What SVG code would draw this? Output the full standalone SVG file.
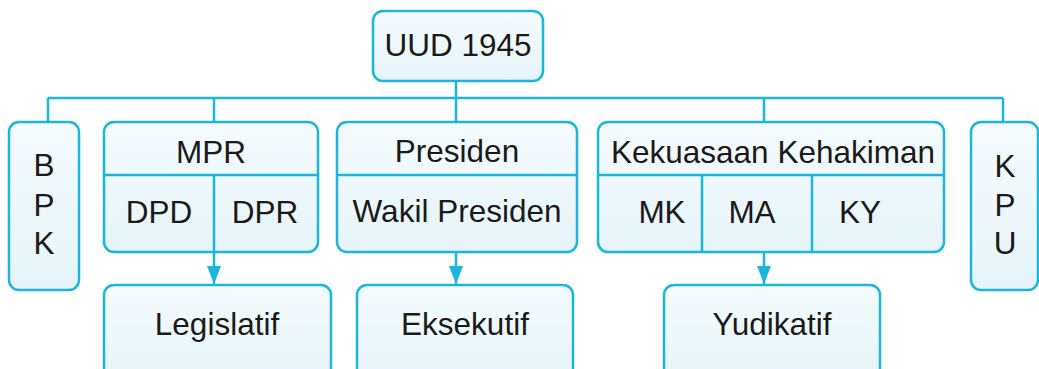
<svg xmlns="http://www.w3.org/2000/svg" width="1039" height="369" viewBox="0 0 1039 369">
<defs>
<linearGradient id="fillg" x1="0" y1="0" x2="0" y2="1">
<stop offset="0" stop-color="#f5fbfd"/>
<stop offset="1" stop-color="#e6f4f9"/>
</linearGradient>
<marker id="arr" viewBox="0 0 18 14" refX="18" refY="7" markerWidth="18" markerHeight="14" markerUnits="userSpaceOnUse" orient="auto">
<path d="M0,0 L18,7 L0,14 Z" fill="#1cb6da"/>
</marker>
<style>
.box{fill:url(#fillg);stroke:#1cb6da;stroke-width:2.5}
.ln{fill:none;stroke:#1cb6da;stroke-width:2.5}
text{font-family:"Liberation Sans",Arial,sans-serif;font-size:31.5px;fill:#1a1a1a;text-anchor:middle}
</style>
</defs>
<rect width="1039" height="369" fill="#ffffff"/>
<g id="connectors">
<path class="ln" d="M456,81 V122"/>
<path class="ln" d="M48,98 H1003"/>
<path class="ln" d="M48,98 V122"/>
<path class="ln" d="M214,98 V122"/>
<path class="ln" d="M764,98 V122"/>
<path class="ln" d="M1003,98 V122"/>
<path class="ln" d="M214,252 V284" marker-end="url(#arr)"/>
<path class="ln" d="M456,252 V284" marker-end="url(#arr)"/>
<path class="ln" d="M764,252 V284" marker-end="url(#arr)"/>
</g>
<g id="uud">
<rect class="box" x="373" y="11" width="170" height="70" rx="10"/>
<text x="458" y="56">UUD 1945</text>
</g>
<g id="bpk">
<rect class="box" x="9" y="122" width="70" height="168" rx="10"/>
<text x="44" y="176">B</text>
<text x="44" y="216">P</text>
<text x="44" y="254">K</text>
</g>
<g id="mpr">
<rect class="box" x="104" y="122" width="214" height="130" rx="10"/>
<path class="ln" d="M104,175 H318 M214,175 V252"/>
<text x="211" y="163">MPR</text>
<text x="159" y="223">DPD</text>
<text x="265" y="223">DPR</text>
</g>
<g id="presiden">
<rect class="box" x="337" y="122" width="240" height="130" rx="10"/>
<path class="ln" d="M337,175 H577"/>
<text x="457" y="162">Presiden</text>
<text x="457" y="222">Wakil Presiden</text>
</g>
<g id="kehakiman">
<rect class="box" x="598" y="122" width="346" height="130" rx="10"/>
<path class="ln" d="M598,175 H944 M702,175 V252 M812,175 V252"/>
<text x="773" y="163">Kekuasaan Kehakiman</text>
<text x="662" y="223">MK</text>
<text x="752" y="223">MA</text>
<text x="860" y="223">KY</text>
</g>
<g id="kpu">
<rect class="box" x="971" y="122" width="67" height="168" rx="10"/>
<text x="1005" y="177">K</text>
<text x="1005" y="216">P</text>
<text x="1005" y="254">U</text>
</g>
<g id="legislatif">
<rect class="box" x="104" y="285" width="227" height="95" rx="10"/>
<text x="217" y="335">Legislatif</text>
</g>
<g id="eksekutif">
<rect class="box" x="357" y="285" width="216" height="95" rx="10"/>
<text x="465" y="335">Eksekutif</text>
</g>
<g id="yudikatif">
<rect class="box" x="664" y="285" width="216" height="95" rx="10"/>
<text x="772" y="335">Yudikatif</text>
</g>
</svg>
